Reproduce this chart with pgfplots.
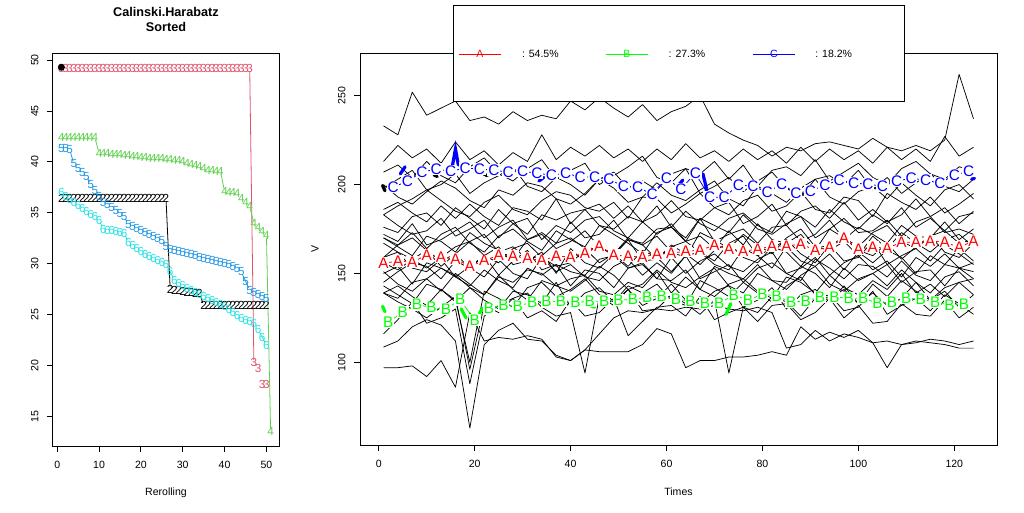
\documentclass[border=0pt]{standalone}
\usepackage{fontspec}
\setmainfont{Liberation Sans}
\usepackage{pgfplots}
\usepackage{pgfplotstable}
\pgfplotsset{compat=1.18}
\definecolor{cA}{HTML}{FF0000}
\definecolor{cB}{HTML}{00FF00}
\definecolor{cC}{HTML}{0000FF}
\definecolor{r2}{HTML}{DF536B}
\definecolor{r3}{HTML}{61D04F}
\definecolor{r4}{HTML}{2297E6}
\definecolor{r5}{HTML}{28E2E5}
\newcommand{\fs}{\fontsize{7.9}{9.5}\selectfont}
\newcommand{\fd}{\fontsize{8.8}{9.5}\selectfont}
\newcommand{\fl}{\fontsize{11.5}{13}\selectfont}

\pgfplotstableread{
x y1 y2 y3 y4 y5 y6 y7 y8 y9 y10 y11 y12 y13 y14 y15 y16 y17 y18 y19 y20 y21 y22 y23 y24 y25 y26
1 233 213 207 198 200 183 186 176 183 172 170 170 159 167 156 159 145 150 151 139 143 139 139 116 108.6 97
4 228 222 211 203 193 188 190 173 177 168 166 165 166 162 152 162 151 154 144 136 138 143 134 124 112 97
7 252 215 204 208 189 192 184 182 172 178 173 160 170 158 158 153 156 144 140 145 133 137 130 134 120 98
10 239 220 213 197 196 197 179 184 174 166 164 171 163 153 163 151 154 156 147 147 144 132 125 122 124 92
13 243 212 205 200 202 191 188 177 181 169 172 168 157 159 154 158 147 153 153 140 141 141 131 125 121 101
16 247 224 201 206 198 185 181 187 171 174 176 162 161 165 161 148 157 148 149 150 135 134 137 130 112 86
19 236 214 210 195 191 182 189 181 175 179 167 173 168 168 153 154 153 143 142 144 100 142 96 88 63 128
22 238 219 215 201 187 190 182 175 180 170 162 167 172 160 160 160 148 152 138 138 140 135 132 126 110 112
25 234 211 206 205 197 194 177 186 170 176 171 163 162 156 165 149 158 146 148 149 136 130 128 132 118 114
28 241 218 202 210 194 186 187 178 178 180 175 158 165 164 155 157 150 142 145 141 131 140 136 136 122 113
31 236 213 209 199 201 183 185 172 181 169 168 169 158 167 157 163 147 153 152 135 142 138 139 125 113 115
34 239 228 214 196 199 191 180 183 169 173 163 172 160 159 162 152 159 149 150 146 145 133 131 129 112 113
37 237 214 203 204 192 196 192 180 177 167 174 164 167 154 150 155 151 155 143 143 137 145 126 123 104 103
40 247 221 208 200 189 194 178 184 173 179 169 168 170 156 164 151 155 143 140 147 141 131 128 135 101 101
43 242 216 212 194 195 187 186 186 180 170 165 174 164 163 156 149 148 152 146 149 147 139 94 126 107 107
46 249 222 200 203 203 185 189 177 182 172 177 165 156 165 153 158 146 150 154 140 138 142 137 128 106 116
49 243 215 205 207 198 190 181 175 174 180 172 161 161 160 161 160 154 142 149 138 134 134 132 136 106 125
52 238 220 210 198 190 181 188 182 170 169 167 170 169 169 154 153 158 153 141 145 143 141 141 115 106 129
55 245 213 216 202 193 193 179 179 179 167 161 166 166 157 163 156 149 155 144 142 139 132 129 123 110 128
58 236 220 204 197 201 192 183 188 172 175 173 171 158 158 159 147 156 147 152 151 144 136 130 131 119 130
61 241 214 201 206 194 184 191 176 178 176 176 162 165 166 151 159 150 146 145 139 135 144 138 132 116 129
64 244 223 209 209 191 189 182 185 168 170 168 159 168 161 160 150 160 152 142 148 132 135 133 126 97 131
67 250 215 206 195 197 195 180 178 181 181 171 173 162 155 162 157 147 141 148 141 146 133 127 137 101 130
70 234 219 213 199 202 187 187 174 177 168 164 169 157 163 155 161 151 154 153 137 142 140 135 124 101 132
73 229 213 203 204 192 183 190 181 173 172 174 164 167 167 152 154 155 150 143 144 137 143 94 128 103 130
76 225 220 211 196 188 191 178 184 183 175 166 172 171 159 164 151 145 147 139 147 145 131 131 131 103 129
79 222 214 199 202 199 194 182 177 175 167 178 166 160 156 160 158 153 155 150 140 139 135 128 123 104 131
82 216 219 208 207 195 185 189 173 172 176 169 161 164 165 153 162 156 146 146 136 134 142 137 132 106 128
85 221 212 210 198 190 188 177 185 178 177 167 170 169 162 165 150 150 145 141 148 143 130 134 133 104 108
88 219 221 205 193 198 196 185 182 182 168 172 175 161 154 157 153 146 154 149 145 148 138 126 124 120 110
91 223 213 214 203 203 186 188 176 170 172 163 165 156 164 154 159 158 150 154 139 138 141 136 128 113 118
94 224 220 202 205 193 184 181 186 175 180 175 163 166 166 161 149 153 142 144 149 136 134 138 136 117 112
97 222 214 207 200 189 193 190 179 181 169 170 168 170 157 152 156 147 153 140 142 141 143 129 125 114 116
100 220 219 212 208 196 191 180 175 173 176 165 160 163 159 162 160 155 146 147 138 133 133 131 132 118 114
103 226 212 204 197 199 182 186 183 174 172 173 171 160 168 156 152 154 150 150 146 144 139 140 122 111 111
106 221 221 200 204 192 195 179 178 180 167 177 164 167 155 163 157 148 155 143 141 137 132 127 123 97 112
109 219 214 209 195 201 190 183 187 171 177 168 173 158 160 159 148 157 145 152 150 146 136 132 133 110 110
112 222 220 213 201 194 186 192 176 179 171 164 167 165 164 150 159 149 151 145 139 140 145 136 127 112 111
115 219 213 206 206 188 193 182 181 182 170 171 162 171 157 160 154 146 152 139 144 135 135 129 126 111 113
118 225 227 203 199 197 184 187 174 173 179 174 169 162 166 155 161 155 143 148 137 142 140 138 135 110 112
121 262 216 210 196 200 189 178 182 175 169 167 172 159 161 164 153 153 153 151 145 145 131 133 125 108 110
124 237 221 208 203 192 195 185 184 172 175 169 165 167 155 157 151 156 147 143 147 138 138 127 131 108 112
}\series

\pgfplotsset{
  common/.style={
    scale only axis, anchor=south west,
    axis line style={line width=0.75pt},
    every tick/.style={black, line width=0.75pt},
    tick align=outside, xtick pos=left, ytick pos=left,
    major tick length=4.5pt,
    /pgf/number format/assume math mode=true,
    tick label style={font=\fs},
    xticklabel style={yshift=-3pt},
    yticklabel style={rotate=90, anchor=south, yshift=2.8pt},
    label style={font=\fs},
  },
  digit/.style={only marks, mark=text, text mark={#1}, text mark as node=true},
  conn/.style={line width=0.6pt, shorten <=2pt, shorten >=2pt, forget plot},
  blob/.style={line width=2.4pt, line cap=round, forget plot},
}

\begin{document}
\begin{tikzpicture}
\path[use as bounding box] (0pt,0pt) rectangle (768pt,384pt);

% ---------------- left panel ----------------
\begin{axis}[common,
  at={(39.75pt,49.5pt)}, width=169.5pt, height=294.75pt,
  xmin=-1, xmax=53, ymin=12.1, ymax=50.7,
  xtick={0,10,20,30,40,50}, ytick={15,20,25,30,35,40,45,50},
  title={Calinski.Harabatz\\Sorted},
  title style={font=\bfseries\fontsize{9.5}{11.25}\selectfont, align=center,
    at={(axis description cs:0.5,1.0648)}, anchor=center},
  xlabel={Rerolling},
  xlabel style={at={(axis description cs:0.5,-0.1196)}, anchor=center},
]
\addplot[r2, conn] coordinates {(46,49.2) (47,20.3)};
\addplot[r3, conn] coordinates {(9,42.4) (10,40.85)};
\addplot[r3, conn] coordinates {(39,39.1) (40,37.1)};
\addplot[r3, conn] coordinates {(46,35.6) (47,34.0)};
\addplot[r3, conn] coordinates {(50,32.8) (51,13.5)};
\addplot[r4, conn] coordinates {(3,41.2) (4,39.8)};
\addplot[r4, conn] coordinates {(7,38.6) (8,37.8)};
\addplot[r4, conn] coordinates {(16,34.6) (17,33.9)};
\addplot[r4, conn] coordinates {(25,32.3) (26,31.7)};
\addplot[r4, conn] coordinates {(44,29.2) (45,28.3) (46,27.4)};
\addplot[r5, conn] coordinates {(10,34.3) (11,33.4)};
\addplot[r5, conn] coordinates {(16,33.0) (17,32.1)};
\addplot[r5, conn] coordinates {(26,29.9) (27,29.2) (28,28.4)};
\addplot[r5, conn] coordinates {(48,23.5) (49,22.8) (50,22.0)};
\addplot[black, conn] coordinates {(26,36.4) (27,27.5)};
\addplot[black, conn] coordinates {(34,27.1) (35,25.9)};

\addplot[black, digit=2, text mark style={font=\fd, text=black, inner sep=0pt}] coordinates {
(1,36.4)(2,36.4)(3,36.4)(4,36.4)(5,36.4)(6,36.4)(7,36.4)(8,36.4)(9,36.4)(10,36.4)
(11,36.4)(12,36.4)(13,36.4)(14,36.4)(15,36.4)(16,36.4)(17,36.4)(18,36.4)(19,36.4)(20,36.4)
(21,36.4)(22,36.4)(23,36.4)(24,36.4)(25,36.4)(26,36.4)
(27,27.5)(28,27.4)(29,27.4)(30,27.3)(31,27.2)(32,27.2)(33,27.1)(34,27.1)
(35,25.9)(36,25.9)(37,25.9)(38,25.9)(39,25.9)(40,25.9)(41,25.9)(42,25.9)(43,25.9)(44,25.9)
(45,25.9)(46,25.9)(47,25.9)(48,25.9)(49,25.9)(50,25.9)};
\addplot[r2, digit=3, text mark style={font=\fd, text=r2, inner sep=0pt}] coordinates {
(1,49.2)(2,49.2)(3,49.2)(4,49.2)(5,49.2)(6,49.2)(7,49.2)(8,49.2)(9,49.2)(10,49.2)
(11,49.2)(12,49.2)(13,49.2)(14,49.2)(15,49.2)(16,49.2)(17,49.2)(18,49.2)(19,49.2)(20,49.2)
(21,49.2)(22,49.2)(23,49.2)(24,49.2)(25,49.2)(26,49.2)(27,49.2)(28,49.2)(29,49.2)(30,49.2)
(31,49.2)(32,49.2)(33,49.2)(34,49.2)(35,49.2)(36,49.2)(37,49.2)(38,49.2)(39,49.2)(40,49.2)
(41,49.2)(42,49.2)(43,49.2)(44,49.2)(45,49.2)(46,49.2)
(47,20.3)(48,19.7)(49,18.1)(50,18.1)};
\addplot[r3, digit=4, text mark style={font=\fd, text=r3, inner sep=0pt}] coordinates {
(1,42.4)(2,42.4)(3,42.4)(4,42.4)(5,42.4)(6,42.4)(7,42.4)(8,42.4)(9,42.4)
(10,40.85)(11,40.8)(12,40.8)(13,40.75)(14,40.7)(15,40.7)(16,40.65)(17,40.6)(18,40.5)(19,40.5)
(20,40.45)(21,40.4)(22,40.35)(23,40.3)(24,40.3)(25,40.3)(26,40.25)(27,40.2)(28,40.15)(29,40.1)
(30,40.0)(31,39.9)(32,39.8)(33,39.7)(34,39.6)(35,39.4)(36,39.2)(37,39.15)(38,39.1)(39,39.1)
(40,37.1)(41,37.0)(42,37.0)(43,36.9)(44,36.4)(45,36.0)(46,35.6)
(47,34.0)(48,33.6)(49,33.2)(50,32.8)(51,13.5)};
\addplot[r4, digit=5, text mark style={font=\fd, text=r4, inner sep=0pt}] coordinates {
(1,41.3)(2,41.3)(3,41.2)(4,39.8)(5,39.4)(6,39.0)(7,38.6)(8,37.8)(9,37.2)(10,36.6)
(11,36.0)(12,35.8)(13,35.5)(14,35.2)(15,34.9)(16,34.6)(17,33.9)(18,33.7)(19,33.5)(20,33.3)
(21,33.1)(22,32.9)(23,32.7)(24,32.5)(25,32.3)(26,31.7)(27,31.4)(28,31.3)(29,31.2)(30,31.1)
(31,31.0)(32,30.9)(33,30.8)(34,30.6)(35,30.5)(36,30.4)(37,30.3)(38,30.2)(39,30.1)(40,30.0)
(41,29.9)(42,29.7)(43,29.5)(44,29.2)(45,28.3)(46,27.4)(47,27.2)(48,27.0)(49,26.8)(50,26.6)};
\addplot[r5, digit=6, text mark style={font=\fd, text=r5, inner sep=0pt}] coordinates {
(1,37.0)(2,36.6)(3,36.3)(4,36.0)(5,35.7)(6,35.4)(7,35.1)(8,34.8)(9,34.6)(10,34.3)
(11,33.4)(12,33.3)(13,33.3)(14,33.2)(15,33.1)(16,33.0)(17,32.1)(18,31.8)(19,31.5)(20,31.2)
(21,30.9)(22,30.7)(23,30.5)(24,30.3)(25,30.1)(26,29.9)(27,29.2)(28,28.4)(29,28.1)(30,27.9)
(31,27.6)(32,27.4)(33,27.2)(34,27.0)(35,26.8)(36,26.6)(37,26.4)(38,26.2)(39,26.0)(40,25.8)
(41,25.5)(42,25.2)(43,24.9)(44,24.6)(45,24.4)(46,24.3)(47,24.1)(48,23.5)(49,22.8)(50,22.0)};
\addplot[only marks, mark=*, mark size=2.4pt, black] coordinates {(1,49.3)};
\end{axis}

% ---------------- right panel ----------------
\begin{axis}[common,
  at={(270pt,50.25pt)}, width=477.75pt, height=294pt,
  xmin=-3.9, xmax=128.9, ymin=53.5, ymax=274,
  xtick={0,20,40,60,80,100,120}, ytick={100,150,200,250},
  xlabel={Times}, ylabel={V},
  xlabel style={at={(axis description cs:0.5,-0.1199)}, anchor=center},
  ylabel style={at={(axis description cs:-0.0706,0.5)}, anchor=center},
]
\pgfplotsinvokeforeach{1,...,26}{
  \addplot[black, line width=0.55pt, line join=round, forget plot] table[x=x, y=y#1] {\series};
}
% thick pieces of the cluster curves that show beside the letters
\addplot[cC, blob] coordinates {(15.4,211) (16,220) (16.6,211)};
\addplot[cC, blob] coordinates {(4.5,206) (5.5,210)};
\addplot[cC, blob] coordinates {(33.4,202) (34.4,204)};
\addplot[cC, blob] coordinates {(62.6,200) (63.4,202.5)};
\addplot[cC, blob] coordinates {(67.6,206) (68.4,197)};
\addplot[cC, blob] coordinates {(123.6,203) (124.2,203.5)};
\addplot[black, blob] coordinates {(0.8,199.5) (1.3,196.5)};
\addplot[black, blob] coordinates {(11.5,205.5) (12.2,204.5)};
\addplot[black, blob] coordinates {(21.9,206) (22.6,205)};
\addplot[cB, blob] coordinates {(0.8,131.5) (1.3,128.5)};
\addplot[cB, blob] coordinates {(17.2,130) (18.2,125)};
\addplot[cB, blob] coordinates {(21,127.5) (21.6,130.5)};
\addplot[cB, blob] coordinates {(44,132) (45,131)};
\addplot[cB, blob] coordinates {(72.4,127) (73.4,133)};
\addplot[cA, blob] coordinates {(43.6,163) (44.3,163.8)};

\addplot[cA, line width=0.6pt, mark=text, text mark={A}, text mark as node=true,
  text mark style={font=\fl, text=cA, fill=white, draw=none, inner sep=0.6pt}] coordinates {
(1,155.8)(4,156.9)(7,156.4)(10,160.3)(13,159.2)(16,158.0)(19,154.1)(22,157.2)(25,160.3)(28,159.7)
(31,158.6)(34,157.2)(37,159.7)(40,159.4)(43,161.4)(46,165.4)(49,160.3)(52,159.7)(55,159.2)(58,160.9)
(61,161.4)(64,162.5)(67,163.1)(70,165.9)(73,163.7)(76,162.5)(79,163.7)(82,165.4)(85,165.4)(88,166.5)
(91,163.1)(94,164.8)(97,169.9)(100,163.7)(103,164.8)(106,164.2)(109,167.6)(112,167.6)(115,168.2)(118,167.6)
(121,164.8)(124,168.2)};
\addplot[cB, line width=0.6pt, mark=text, text mark={B}, text mark as node=true,
  text mark style={font=\fl, text=cB, fill=white, draw=none, inner sep=0.6pt}] coordinates {
(2,122.6)(5,128.2)(8,132.5)(11,130.8)(14,129.9)(17,135.3)(20,123.7)(23,130.2)(26,131.9)(29,131.6)
(32,133.9)(35,134.1)(38,134.4)(41,133.6)(44,134.4)(47,134.4)(50,135.0)(53,135.5)(56,136.7)(59,137.2)
(62,135.5)(65,134.4)(68,133.3)(71,133.3)(74,137.8)(77,135.0)(80,138.4)(83,137.2)(86,133.9)(89,134.4)
(92,136.7)(95,136.7)(98,136.1)(101,136.1)(104,133.3)(107,133.9)(110,136.1)(113,135.5)(116,133.9)(119,132.2)
(122,132.7)};
\addplot[cC, line width=0.6pt, mark=text, text mark={C}, text mark as node=true,
  text mark style={font=\fl, text=cC, fill=white, draw=none, inner sep=0.6pt}] coordinates {
(3,198.5)(6,201.9)(9,207.0)(12,208.7)(15,207.5)(18,209.3)(21,208.7)(24,208.1)(27,207.0)(30,207.5)
(33,206.4)(36,205.3)(39,206.4)(42,204.2)(45,204.2)(48,203.0)(51,199.1)(54,198.5)(57,194.6)(60,203.6)
(63,197.4)(66,206.4)(69,192.9)(72,192.9)(75,199.7)(78,199.1)(81,195.7)(84,200.2)(87,195.2)(90,196.3)
(93,199.7)(96,202.5)(99,200.8)(102,200.2)(105,199.1)(108,201.9)(111,203.6)(114,202.5)(117,200.8)(120,205.3)
(123,207.5)};
\end{axis}

% ---------------- legend ----------------
\draw[line width=0.75pt, fill=white] (339.75pt,308.25pt) rectangle (678pt,379.5pt);
\draw[cA, line width=0.6pt] (344.25pt,343.5pt) -- (375.75pt,343.5pt);
\node[text=cA, font=\fs, inner sep=0pt] at (360pt,343.5pt) {A};
\node[anchor=west, font=\fs, inner sep=0pt] at (391.3pt,343.5pt) {: 54.5\%};
\draw[cB, line width=0.6pt] (454.3pt,343.5pt) -- (486pt,343.5pt);
\node[text=cB, font=\fs, inner sep=0pt] at (470.2pt,343.5pt) {B};
\node[anchor=west, font=\fs, inner sep=0pt] at (501.3pt,343.5pt) {: 27.3\%};
\draw[cC, line width=0.6pt] (564.5pt,343.5pt) -- (596.3pt,343.5pt);
\node[text=cC, font=\fs, inner sep=0pt] at (580.5pt,343.5pt) {C};
\node[anchor=west, font=\fs, inner sep=0pt] at (611.3pt,343.5pt) {: 18.2\%};
\end{tikzpicture}
\end{document}
